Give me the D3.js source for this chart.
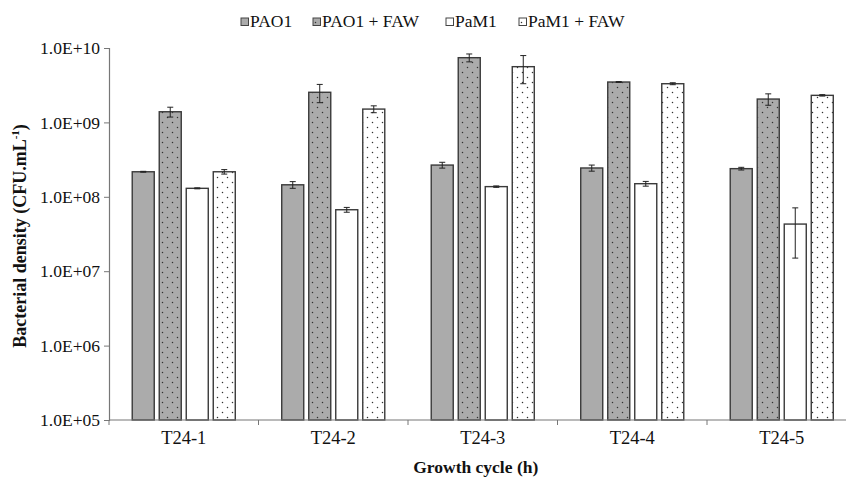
<!DOCTYPE html>
<html>
<head>
<meta charset="utf-8">
<script src="https://cdn.jsdelivr.net/npm/d3@7"></script>
<style>
  body { margin: 0; background: #fff; }
  svg { display: block; font-family: "Liberation Serif", "Times New Roman", serif; }
</style>
</head>
<body>
<svg id="chart" width="846" height="479"></svg>
<script>
// values (CFU/mL), with +/- error
const cycles = ["T24-1", "T24-2", "T24-3", "T24-4", "T24-5"]
const seriesNames = ["PAO1", "PAO1 + FAW", "PaM1", "PaM1 + FAW"]
const pao1 = [2.17e8, 1.45e8, 2.67e8, 2.44e8, 2.39e8]
const pao1Err = [0.03e8, 0.15e8, 0.24e8, 0.23e8, 0.1e8]
const pao1Faw = [1.39e9, 2.54e9, 7.41e9, 3.49e9, 2.06e9]
const pao1FawErr = [0.21e9, 0.7e9, 0.9e9, 0.05e9, 0.36e9]
const pam1 = [1.3e8, 6.7e7, 1.37e8, 1.5e8, 4.3e7]
const pam1Err = [0.02e8, 0.5e7, 0.03e8, 0.11e8, 2.8e7]
const pam1Faw = [2.17e8, 1.51e9, 5.61e9, 3.31e9, 2.31e9]
const pam1FawErr = [0.15e8, 0.16e9, 2.3e9, 0.1e9, 0.05e9]
const yTicks = [1e5, 1e6, 1e7, 1e8, 1e9, 1e10]

const values = [pao1, pao1Faw, pam1, pam1Faw]
const errors = [pao1Err, pao1FawErr, pam1Err, pam1FawErr]

const margin = { top: 48, left: 109, bottom: 59 }
const svg = d3.select("#chart")
const height = 479

const x = d3.scaleBand().domain(cycles).range([margin.left, margin.left + 5 * 149.5])
const xs = d3.scaleBand().domain(seriesNames).range([0, x.bandwidth()])
  .paddingInner(0.185).paddingOuter(0.86)
const y = d3.scaleLog().domain([1e5, 1e10]).range([height - margin.bottom, margin.top])

const defs = svg.append("defs")
function dots(id, bg) {
  const p = defs.append("pattern").attr("id", id)
    .attr("patternUnits", "userSpaceOnUse").attr("width", 10).attr("height", 10)
  p.append("rect").attr("width", 10).attr("height", 10).attr("fill", bg)
  p.append("circle").attr("cx", 2.5).attr("cy", 2.5).attr("r", 0.75).attr("fill", "#333")
  p.append("circle").attr("cx", 7.5).attr("cy", 7.5).attr("r", 0.75).attr("fill", "#333")
}
dots("dotGray", "#ababab")
dots("dotWhite", "#ffffff")
const fills = ["#ababab", "url(#dotGray)", "#ffffff", "url(#dotWhite)"]

// bars
const rows = []
cycles.forEach((c, i) => {
  seriesNames.forEach((s, j) => {
    rows.push({ cycle: c, series: s, j: j, v: values[j][i], e: errors[j][i] })
  })
})

const g = svg.append("g")
g.selectAll("rect.bar").data(rows).enter().append("rect")
  .attr("class", "bar")
  .attr("x", d => x(d.cycle) + xs(d.series))
  .attr("width", xs.bandwidth())
  .attr("y", d => y(d.v))
  .attr("height", d => y(1e5) - y(d.v))
  .attr("fill", d => fills[d.j])
  .attr("stroke", "#3a3a3a")
  .attr("stroke-width", 1.4)

// error bars
const eb = g.selectAll("g.err").data(rows).enter().append("g")
  .attr("class", "err")
  .attr("stroke", "#222").attr("stroke-width", 1)
const cx = d => x(d.cycle) + xs(d.series) + xs.bandwidth() / 2
eb.append("line")
  .attr("x1", cx).attr("x2", cx)
  .attr("y1", d => y(d.v + d.e))
  .attr("y2", d => y(d.v - d.e))
eb.append("line")
  .attr("x1", d => cx(d) - 3).attr("x2", d => cx(d) + 3)
  .attr("y1", d => y(d.v + d.e))
  .attr("y2", d => y(d.v + d.e))
eb.append("line")
  .attr("x1", d => cx(d) - 3).attr("x2", d => cx(d) + 3)
  .attr("y1", d => y(d.v - d.e))
  .attr("y2", d => y(d.v - d.e))

// y axis
const yAxis = svg.append("g")
  .attr("transform", `translate(${margin.left},0)`)
  .call(d3.axisLeft(y).tickValues(yTicks).tickSize(5).tickPadding(4)
    .tickFormat(d => "1.0E+" + String(Math.round(Math.log10(d))).padStart(2, "0")))
yAxis.select(".domain").attr("stroke", "#777").attr("stroke-width", 1.2)
yAxis.selectAll(".tick line").attr("stroke", "#777")
yAxis.selectAll(".tick text").attr("font-size", 17.5).attr("fill", "#111")
  .attr("font-family", "Liberation Serif, serif")

// x axis
const xAxisY = y(1e5)
const xAxis = svg.append("g").attr("transform", `translate(0,${xAxisY})`)
xAxis.append("line").attr("x1", margin.left).attr("x2", 846)
  .attr("stroke", "#777").attr("stroke-width", 1.2)
xAxis.selectAll("line.tk").data(cycles).enter().append("line")
  .attr("class", "tk")
  .attr("x1", d => x(d)).attr("x2", d => x(d))
  .attr("y1", 0).attr("y2", 5).attr("stroke", "#777")
xAxis.selectAll("text").data(cycles).enter().append("text")
  .attr("x", d => x(d) + x.bandwidth() / 2)
  .attr("y", 24)
  .attr("text-anchor", "middle")
  .attr("font-size", 18.5).attr("fill", "#111")
  .text(d => d)

// axis titles
svg.append("text")
  .attr("x", margin.left + 5 * 149.5 / 2 - 7).attr("y", 473)
  .attr("text-anchor", "middle").attr("font-weight", "bold").attr("font-size", 17.5)
  .attr("fill", "#111")
  .text("Growth cycle (h)")

const yt = svg.append("text")
  .attr("transform", "translate(26,236) rotate(-90)")
  .attr("text-anchor", "middle").attr("font-weight", "bold").attr("font-size", 18)
  .attr("fill", "#111")
yt.append("tspan").text("Bacterial density (CFU.mL")
yt.append("tspan").attr("font-size", 11).attr("dy", -7).text("-1")
yt.append("tspan").attr("dy", 7).text(")")

// legend
const legendX = [241, 313, 446, 519]
const lg = svg.append("g").selectAll("g").data(seriesNames).enter().append("g")
  .attr("transform", (d, i) => `translate(${legendX[i]},0)`)
lg.append("rect").attr("y", 18).attr("width", 7.5).attr("height", 7.5)
  .attr("fill", (d, i) => fills[i]).attr("stroke", "#444").attr("stroke-width", 1)
lg.append("text").attr("x", 9).attr("y", 26.5)
  .attr("font-size", 17.5).attr("fill", "#111")
  .text(d => d)
</script>
</body>
</html>
